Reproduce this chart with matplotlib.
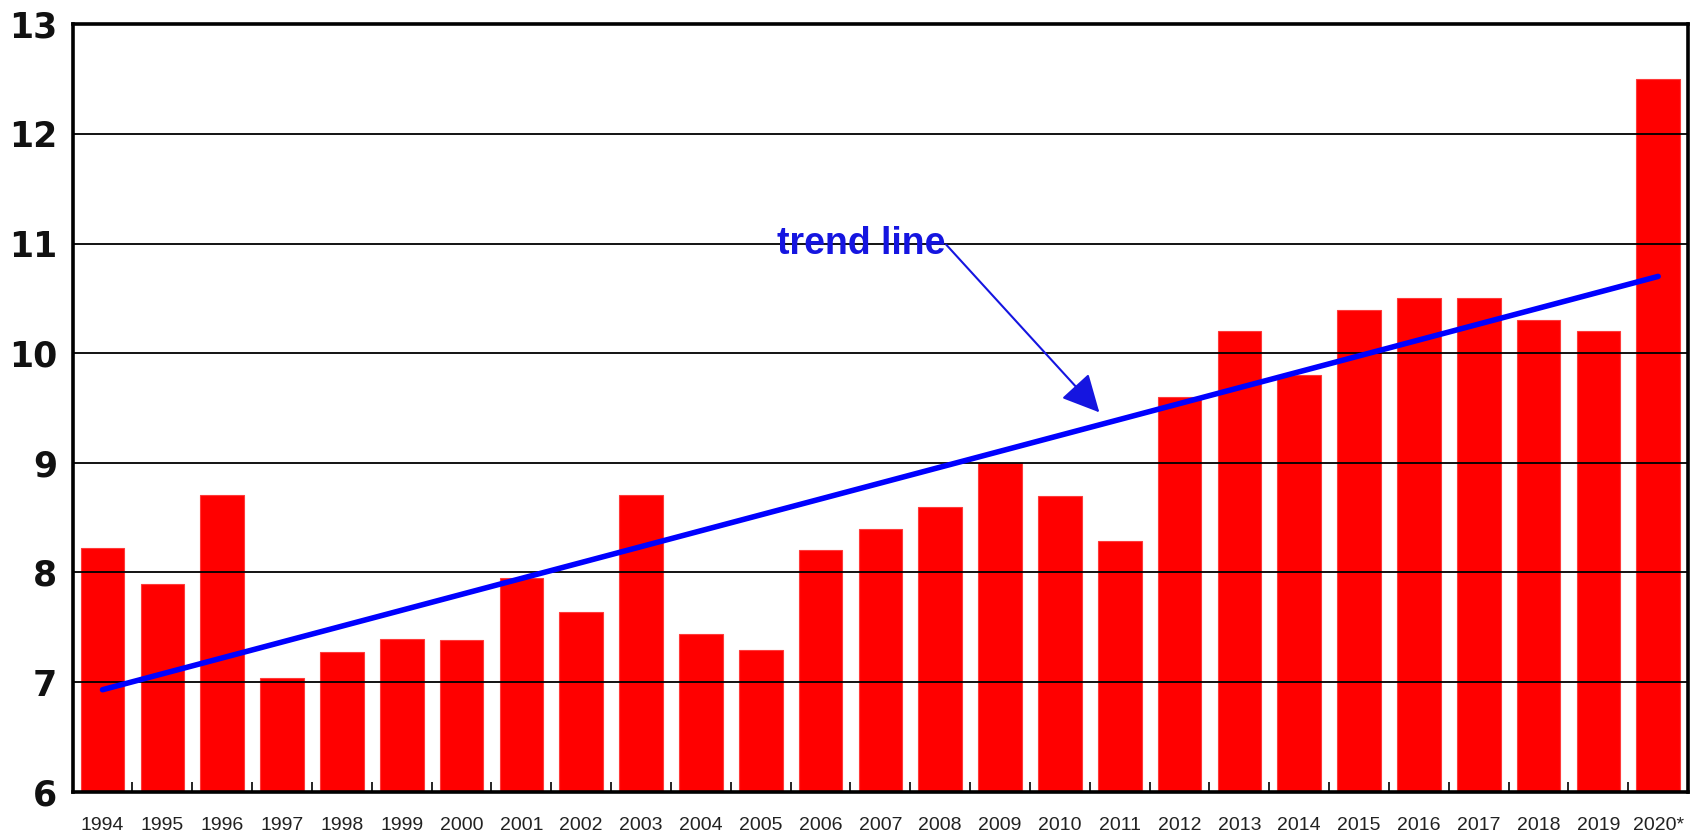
import matplotlib
matplotlib.use("Agg")
import matplotlib.pyplot as plt
import numpy as np

years = ["1994", "1995", "1996", "1997", "1998", "1999", "2000", "2001", "2002",
         "2003", "2004", "2005", "2006", "2007", "2008", "2009", "2010", "2011",
         "2012", "2013", "2014", "2015", "2016", "2017", "2018", "2019", "2020*"]
values = [8.22, 7.89, 8.71, 7.04, 7.27, 7.39, 7.38, 7.95, 7.64,
          8.71, 7.44, 7.29, 8.20, 8.40, 8.60, 9.00, 8.70, 8.29,
          9.60, 10.20, 9.80, 10.39, 10.50, 10.50, 10.30, 10.20, 12.50]
trend_start = 6.93
trend_end = 10.70
yticks = [6, 7, 8, 9, 10, 11, 12, 13]
annot_text = "trend line"

fig = plt.figure(figsize=(17, 8.36), dpi=100)
ax = fig.add_axes([0.0427, 0.053, 0.9503, 0.918])

x = np.arange(len(years))
ax.bar(x, values, width=0.73, bottom=0, color="#ff0000", edgecolor="#ff3a3a",
       linewidth=0.8, zorder=1)

ax.set_ylim(6, 13)
ax.set_xlim(-0.5, len(years) - 0.5)

# gridlines over bars
for yv in yticks[1:-1]:
    ax.axhline(yv, color="black", lw=1.3, zorder=2)

# trend line
ax.plot([x[0], x[-1]], [trend_start, trend_end], color="#0000ff", lw=4.0,
        solid_capstyle="round", zorder=4)

ax.text(11.27, 11.0, annot_text, ha="left", va="center", fontsize=27,
        fontweight="bold", color="#1515e0",
        family=["Liberation Sans", "DejaVu Sans"], zorder=5)
ax.annotate("", xy=(16.66, 9.46), xytext=(14.10, 10.99),
            arrowprops=dict(arrowstyle="-|>", color="#1515e0", lw=1.5,
                            mutation_scale=58, shrinkA=0, shrinkB=0),
            zorder=5)

ax.set_yticks(yticks)
ax.set_yticklabels([str(v) for v in yticks], fontsize=25, fontweight="bold",
                   family=["DejaVu Sans"], color="#111111")
ax.tick_params(axis="y", length=0, pad=11)

ax.set_xticks(x)
ax.set_xticklabels(years, fontsize=14, color="#222222",
                   family=["Liberation Sans", "DejaVu Sans"])
ax.tick_params(axis="x", length=0, pad=18)
ax.set_xticks(x[:-1] + 0.5, minor=True)
ax.tick_params(axis="x", which="minor", direction="in", length=7, width=1.2,
               color="black")

for s in ax.spines.values():
    s.set_linewidth(2.6)
    s.set_color("black")
    s.set_zorder(6)

fig.savefig("out.png", dpi=100, facecolor="white")
